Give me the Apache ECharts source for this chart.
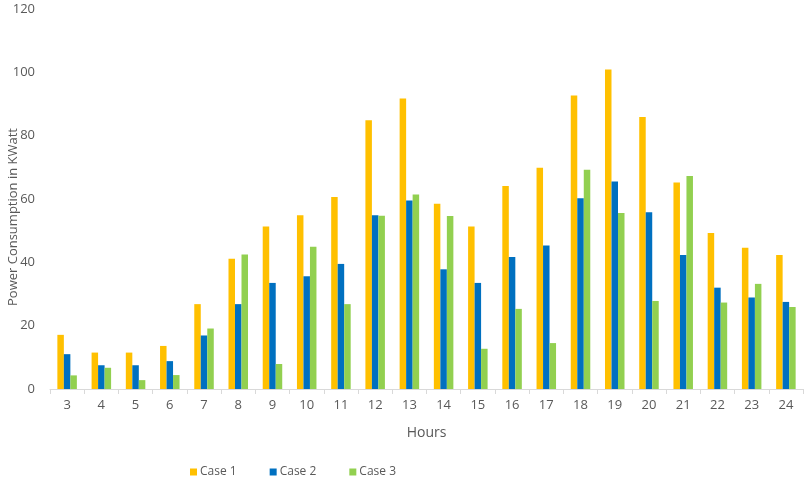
<!DOCTYPE html>
<html>
<head>
<meta charset="utf-8">
<script src="https://cdn.jsdelivr.net/npm/echarts@6/dist/echarts.min.js"></script>
<style>
html,body{margin:0;padding:0;background:#fff;}
#chart{width:812px;height:486px;}
</style>
</head>
<body>
<div id="chart"></div>
<script>
var hours = ['3','4','5','6','7','8','9','10','11','12','13','14','15','16','17','18','19','20','21','22','23','24'];
var case1 = [17.1, 11.5, 11.5, 13.6, 26.8, 41.1, 51.3, 54.9, 60.6, 84.9, 91.7, 58.5, 51.3, 64.1, 69.9, 92.7, 100.9, 85.9, 65.2, 49.3, 44.6, 42.3];
var case2 = [11.0, 7.5, 7.5, 8.8, 16.9, 26.8, 33.5, 35.6, 39.5, 54.9, 59.5, 37.8, 33.5, 41.7, 45.3, 60.2, 65.5, 55.8, 42.3, 32.0, 28.9, 27.5];
var case3 = [4.3, 6.7, 2.8, 4.4, 19.1, 42.5, 7.9, 44.9, 26.8, 54.7, 61.4, 54.6, 12.7, 25.3, 14.5, 69.2, 55.6, 27.8, 67.3, 27.3, 33.2, 25.9];
var seriesNames = ['Case 1', 'Case 2', 'Case 3'];
var colors = ['#FFC000', '#0070C0', '#92D050'];
var yTitle = 'Power Consumption in KWatt';
var xTitle = 'Hours';

var font = 'Open Sans';
var chart = echarts.init(document.getElementById('chart'), null, {renderer: 'canvas'});
var data = [case1, case2, case3];
var series = seriesNames.map(function(n, i){
  return {
    name: n, type: 'bar', data: data[i],
    barGap: '0%', barCategoryGap: '43%',
    itemStyle: {color: colors[i]},
    animation: false
  };
});
chart.setOption({
  animation: false,
  color: colors,
  textStyle: {fontFamily: font},
  grid: {left: 50, right: 9, top: 9, bottom: 97, containLabel: false, outerBoundsMode: 'none'},
  legend: {
    data: seriesNames,
    bottom: 3,
    left: 185,
    itemWidth: 7, itemHeight: 7,
    itemGap: 33,
    icon: 'rect',
    textStyle: {color: '#595959', fontSize: 12, fontFamily: font, padding: [0,0,0,-2]}
  },
  graphic: [{
    type: 'text',
    x: 13, y: 217,
    rotation: Math.PI / 2,
    style: {
      text: yTitle,
      fill: '#595959',
      font: '13px "Open Sans"',
      align: 'center',
      verticalAlign: 'middle'
    }
  }],
  xAxis: {
    type: 'category',
    data: hours,
    name: xTitle,
    nameLocation: 'middle',
    nameGap: 37,
    nameTextStyle: {color: '#595959', fontSize: 14, fontFamily: font},
    axisLine: {lineStyle: {color: '#D9D9D9', width: 1}},
    axisTick: {show: true, length: 5, lineStyle: {color: '#D9D9D9'}},
    axisLabel: {color: '#595959', fontSize: 13, fontFamily: font, margin: 10}
  },
  yAxis: {
    type: 'value',
    min: 0, max: 120, interval: 20,
    axisLine: {show: false},
    axisTick: {show: false},
    splitLine: {show: false},
    axisLabel: {color: '#595959', fontSize: 13, fontFamily: font, margin: 15}
  },
  series: series
});
</script>
</body>
</html>
